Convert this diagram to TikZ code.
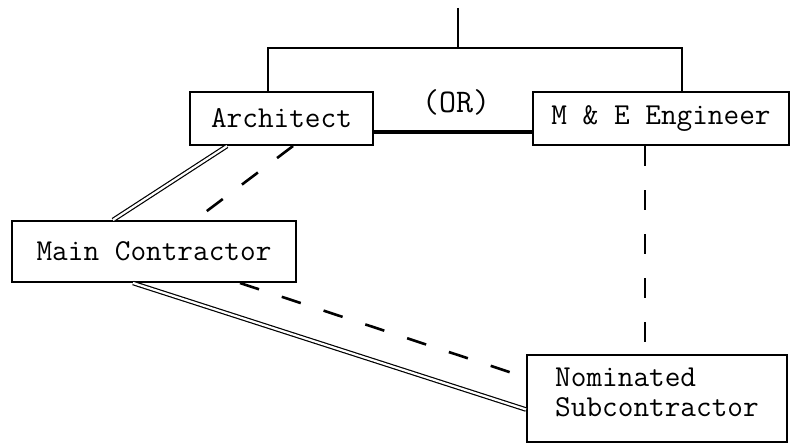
\documentclass[tikz,border=0pt]{standalone}
\usepackage{tikz}
\usetikzlibrary{calc}

\begin{document}
\begin{tikzpicture}[
  x=0.5pt, y=-0.5pt,
  box/.style={rectangle, draw, line width=1pt, inner sep=0pt,
              font=\ttfamily\fontsize{15.2}{15}\selectfont},
  dbl/.style={draw, double=white, double distance=1.1pt, line width=0.6pt},
  dsh/.style={line width=1.3pt, dash pattern=on 10pt off 12pt},
  rule/.style={line width=1pt}
]
  \useasboundingbox (0,0) rectangle (792,444);

  %% Boxes
  \node[box, minimum width=91.5pt, minimum height=26.5pt] (arch) at (281.5,118.5) {Architect};
  \node[box, minimum width=128pt, minimum height=26.5pt] (mee) at (661,118.5) {M \& E Engineer};
  \node[box, minimum width=142pt, minimum height=30.5pt] (main) at (154,251.5) {Main Contractor};
  \node[box, minimum width=130pt, minimum height=43.5pt, align=left,
        text depth=6pt] (nom) at (657,398.5)
    {Nominated\\Subcontractor};

  %% Label between the consultants
  \node[font=\ttfamily\fontsize{16.5}{17}\selectfont] (or) at (456,102) {(OR)};

  %% Bracket on top
  \coordinate (top) at (458,8);
  \coordinate (bar) at (458,48);
  \draw[rule] (top) -- (bar);
  \draw[rule] ([xshift=-6.75pt]arch.north) |- (bar) -| ([xshift=10.5pt]mee.north);

  %% Architect -- M&E
  \draw[line width=1.6pt] ([yshift=-6.75pt]arch.east) -- ([yshift=-6.75pt]arch.east -| mee.west);

  %% Architect -- Main Contractor
  \path[dbl] ([xshift=-27.25pt]arch.south) -- ([xshift=-20.5pt]main.north);
  \draw[dsh] ([xshift=5.75pt]arch.south) -- ([xshift=20.5pt]main.north);

  %% Main Contractor -- Nominated Subcontractor
  \path[dbl] ([xshift=-10.5pt]main.south) -- ([yshift=-5.5pt]nom.west);
  \draw[dsh] ([xshift=43pt]main.south) -- ([yshift=10.5pt]nom.west);

  %% M&E -- Nominated Subcontractor
  \draw[dsh] ([xshift=-8pt]mee.south) -- ([xshift=-8pt]mee.south |- nom.north);

\end{tikzpicture}
\end{document}
